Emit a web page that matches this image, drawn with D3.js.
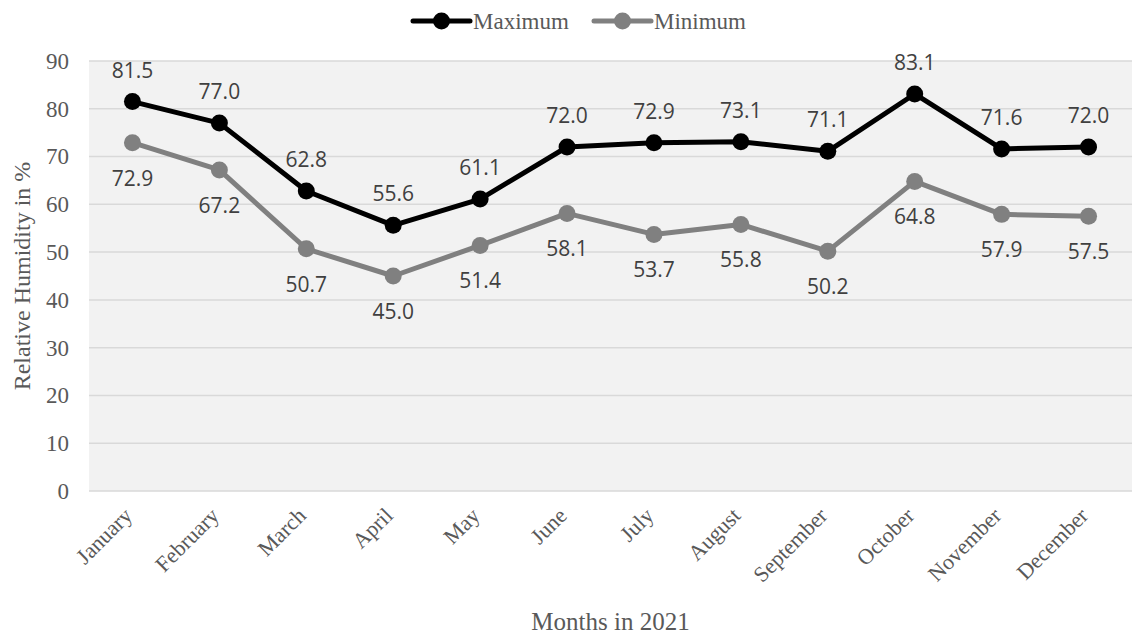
<!DOCTYPE html>
<html>
<head>
<meta charset="utf-8">
<script src="https://cdn.jsdelivr.net/npm/d3@7"></script>
<style>
  body { margin: 0; background: #fff; }
  svg { display: block; }
</style>
</head>
<body>
<div id="chart"></div>
<script>
// Monthly relative humidity, 2021
const months = ["January", "February", "March", "April", "May", "June",
  "July", "August", "September", "October", "November", "December"];
const maxHumidity = [81.5, 77.0, 62.8, 55.6, 61.1, 72.0, 72.9, 73.1, 71.1, 83.1, 71.6, 72.0];
const minHumidity = [72.9, 67.2, 50.7, 45.0, 51.4, 58.1, 53.7, 55.8, 50.2, 64.8, 57.9, 57.5];
const yTicks = [0, 10, 20, 30, 40, 50, 60, 70, 80, 90];

const width = 1132;
const height = 637;
const margin = { top: 61, right: 0, bottom: 146, left: 89 };

const serif = "'Liberation Serif', 'Times New Roman', serif";
const sans = "'Open Sans', 'Noto Sans', sans-serif";
const textColor = "#595959";

const series = [
  { name: "Maximum", values: maxHumidity, color: "#000000", labelDy: -24 },
  { name: "Minimum", values: minHumidity, color: "#808080", labelDy: 43 }
];

const svg = d3.select("#chart")
  .append("svg")
  .attr("width", width)
  .attr("height", height);

const x = d3.scaleBand()
  .domain(months)
  .range([margin.left, width - margin.right]);

const y = d3.scaleLinear()
  .domain([0, 90])
  .range([height - margin.bottom, margin.top]);

const cx = (m) => x(m) + x.bandwidth() / 2;

// Plot background
svg.append("rect")
  .attr("x", margin.left)
  .attr("y", margin.top)
  .attr("width", width - margin.left - margin.right)
  .attr("height", y(0) - margin.top)
  .attr("fill", "#f2f2f2");

// Gridlines
svg.append("g")
  .selectAll("line")
  .data(yTicks)
  .join("line")
  .attr("x1", margin.left)
  .attr("x2", width - margin.right)
  .attr("y1", (d) => y(d))
  .attr("y2", (d) => y(d))
  .attr("stroke", "#d9d9d9")
  .attr("stroke-width", 1.5);

// Y axis
const yAxis = svg.append("g")
  .attr("transform", `translate(${margin.left},0)`)
  .call(d3.axisLeft(y).tickValues(yTicks).tickSize(0).tickPadding(20));
yAxis.select(".domain").remove();
yAxis.selectAll("text")
  .attr("fill", textColor)
  .style("font-family", serif)
  .style("font-size", "23px");

// X axis
const xAxis = svg.append("g")
  .attr("transform", `translate(0,${y(0)})`)
  .call(d3.axisBottom(x).tickSize(0));
xAxis.select(".domain").remove();
xAxis.selectAll("text")
  .attr("fill", textColor)
  .style("font-family", serif)
  .style("font-size", "22px")
  .attr("text-anchor", "end")
  .attr("y", 0)
  .attr("dy", 0)
  .attr("transform", "translate(1,26) rotate(-45)");

// Axis titles
svg.append("text")
  .attr("x", (margin.left + width - margin.right) / 2)
  .attr("y", 630)
  .attr("text-anchor", "middle")
  .attr("fill", textColor)
  .style("font-family", serif)
  .style("font-size", "25px")
  .text("Months in 2021");

svg.append("text")
  .attr("transform", `translate(30,${(margin.top + y(0)) / 2}) rotate(-90)`)
  .attr("text-anchor", "middle")
  .attr("fill", textColor)
  .style("font-family", serif)
  .style("font-size", "24px")
  .text("Relative Humidity in %");

// Lines, markers, labels
const line = d3.line()
  .x((d, i) => cx(months[i]))
  .y((d) => y(d));

series.forEach((s) => {
  svg.append("path")
    .datum(s.values)
    .attr("fill", "none")
    .attr("stroke", s.color)
    .attr("stroke-width", 5)
    .attr("stroke-linejoin", "round")
    .attr("d", line);

  svg.append("g")
    .selectAll("circle")
    .data(s.values)
    .join("circle")
    .attr("cx", (d, i) => cx(months[i]))
    .attr("cy", (d) => y(d))
    .attr("r", 8.5)
    .attr("fill", s.color);

  svg.append("g")
    .selectAll("text")
    .data(s.values)
    .join("text")
    .attr("x", (d, i) => cx(months[i]))
    .attr("y", (d) => y(d) + s.labelDy)
    .attr("text-anchor", "middle")
    .attr("fill", "#404040")
    .style("font-family", sans)
    .style("font-size", "21px")
    .text((d) => d3.format(".1f")(d));
});

// Legend
const legend = svg.append("g").attr("transform", "translate(0,21)");
const legendItems = [
  { s: series[0], x0: 413 },
  { s: series[1], x0: 594 }
];
legendItems.forEach(({ s, x0 }) => {
  legend.append("line")
    .attr("x1", x0).attr("x2", x0 + 57)
    .attr("y1", 0).attr("y2", 0)
    .attr("stroke", s.color)
    .attr("stroke-width", 5)
    .attr("stroke-linecap", "round");
  legend.append("circle")
    .attr("cx", x0 + 28.5).attr("cy", 0).attr("r", 8.5)
    .attr("fill", s.color);
  legend.append("text")
    .attr("x", x0 + 60)
    .attr("y", 0)
    .attr("dy", "0.35em")
    .attr("fill", textColor)
    .style("font-family", serif)
    .style("font-size", "23px")
    .text(s.name);
});
</script>
</body>
</html>
